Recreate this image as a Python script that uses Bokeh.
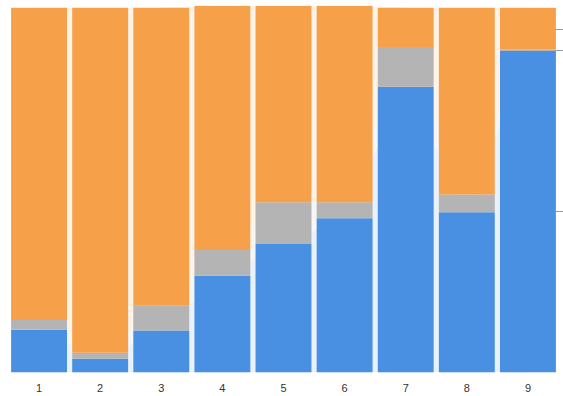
from bokeh.plotting import figure
from bokeh.models import ColumnDataSource, FactorRange, LinearAxis, Range1d, FixedTicker
from bokeh.embed import file_html
from bokeh.resources import INLINE

categories = ["1", "2", "3", "4", "5", "6", "7", "8", "9"]
blue_vals = [0.117, 0.038, 0.115, 0.265, 0.352, 0.423, 0.783, 0.439, 0.881]
gray_vals = [0.027, 0.016, 0.068, 0.071, 0.115, 0.044, 0.109, 0.049, 0.005]
orange_vals = [0.856, 0.946, 0.817, 0.669, 0.538, 0.538, 0.108, 0.512, 0.114]
right_ticks = [0.94, 0.882, 0.44]

colors = ["#4a90e2", "#b4b4b4", "#f7a04a"]
names = ["blue", "gray", "orange"]

src = ColumnDataSource(dict(x=categories, blue=blue_vals, gray=gray_vals, orange=orange_vals))

p = figure(x_range=FactorRange(*categories), y_range=Range1d(0, 1.006),
           frame_width=550, frame_height=367, output_backend="svg", toolbar_location=None,
           min_border_left=8, min_border_right=0, min_border_top=5, min_border_bottom=0)

# faint connecting areas visible in the gaps
p.varea_stack(stackers=names, x="x", color=colors, fill_alpha=0.12, source=src)
p.vbar_stack(names, x="x", width=0.915, color=colors, line_color=None, source=src)

p.xgrid.grid_line_color = None
p.ygrid.grid_line_color = None
p.outline_line_color = None
p.yaxis.visible = False
p.xaxis.axis_line_color = None
p.xaxis.major_tick_line_color = None
p.xaxis.minor_tick_line_color = None
p.xaxis.major_label_text_font = "Liberation Sans"
p.xaxis.major_label_text_font_size = "11px"
p.xaxis.major_label_text_color = "#333333"
p.xaxis.major_label_standoff = 5

ra = LinearAxis(ticker=FixedTicker(ticks=right_ticks), axis_line_color=None,
                major_tick_line_color="#8a9bb0", major_tick_in=3, major_tick_out=6,
                minor_tick_line_color=None,
                major_label_overrides={t: "" for t in right_ticks},
                major_label_standoff=0)
p.add_layout(ra, "right")

open("out.html", "w").write(file_html(p, INLINE))
